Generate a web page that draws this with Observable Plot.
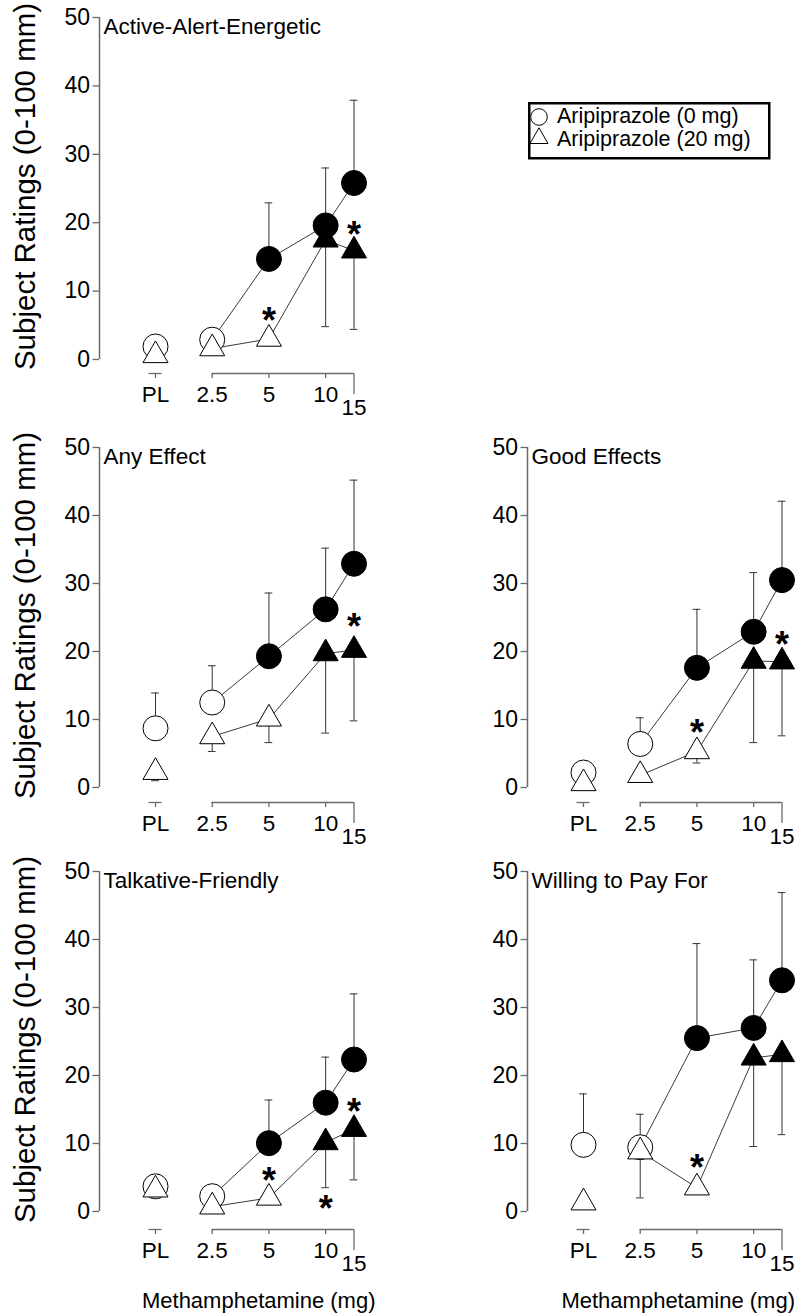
<!DOCTYPE html>
<html><head><meta charset="utf-8">
<script src="https://cdn.jsdelivr.net/npm/d3@7"></script>
<script src="https://cdn.jsdelivr.net/npm/@observablehq/plot@0.6"></script>
<style>
body{margin:0;background:#fff;}
#root{position:relative;width:800px;height:1313px;overflow:hidden;font-family:"Liberation Sans",Arial,Helvetica,sans-serif;background:#fff;}
.panel{position:absolute;}
.panel svg{overflow:visible;}
#legend{position:absolute;left:0;top:0;}
</style></head><body><div id="root"></div>
<script>
// ---- categories / tick labels ----
const doseLabels = ["PL", "2.5", "5", "10", "15"];
const dosePos = [0, 1, 2, 3, 3.5];
const groupNames = ["Aripiprazole (0 mg)", "Aripiprazole (20 mg)"];
const yTicks = [0, 10, 20, 30, 40, 50];
const yTitle = "Subject Ratings (0-100 mm)";
const xTitle = "Methamphetamine (mg)";
const panelTitles = ["Active-Alert-Energetic", "Any Effect", "Good Effects", "Talkative-Friendly", "Willing to Pay For"];

// ---- series values (mean, error-bar end, filled marker flag) ----
const activeMean0 = [1.9, 2.9, 14.7, 19.6, 25.8];
const activeErr0  = [null, null, 22.9, 28.0, 37.9];
const activeFill0 = [0, 0, 1, 1, 1];
const activeMean20 = [0.6, 1.6, 3.0, 17.5, 15.9];
const activeErr20  = [null, null, null, 4.8, 4.4];
const activeFill20 = [0, 0, 0, 1, 1];
const activeStars = [[2, 6.7], [4, 19.3]];

const anyMean0 = [8.7, 12.5, 19.3, 26.2, 32.9];
const anyErr0  = [13.9, 17.9, 28.6, 35.2, 45.2];
const anyFill0 = [0, 0, 1, 1, 1];
const anyMean20 = [2.25, 7.5, 10.1, 19.7, 20.2];
const anyErr20  = [1.0, 5.3, 6.6, 8.0, 9.8];
const anyFill20 = [0, 0, 0, 1, 1];
const anyStars = [[4, 24.7]];

const goodMean0 = [2.2, 6.4, 17.6, 22.9, 30.5];
const goodErr0  = [null, 10.25, 26.2, 31.6, 42.1];
const goodFill0 = [0, 0, 1, 1, 1];
const goodMean20 = [0.6, 1.8, 5.3, 18.6, 18.5];
const goodErr20  = [null, null, 3.6, 6.6, 7.6];
const goodFill20 = [0, 0, 0, 1, 1];
const goodStars = [[2, 9.1], [4, 22.0]];

const talkMean0 = [3.7, 2.25, 10.05, 16.0, 22.35];
const talkErr0  = [null, null, 16.4, 22.7, 32.0];
const talkFill0 = [0, 0, 1, 1, 1];
const talkMean20 = [3.2, 0.7, 2.0, 10.15, 12.1];
const talkErr20  = [null, null, null, 3.5, 4.65];
const talkFill20 = [0, 0, 0, 1, 1];
const talkStars = [[2, 5.6], [3, 1.5], [4, 15.8]];

const payMean0 = [9.8, 9.45, 25.5, 27.0, 34.0];
const payErr0  = [17.3, 14.3, 39.4, 37.0, 46.9];
const payFill0 = [0, 0, 1, 1, 1];
const payMean20 = [1.3, 8.8, 3.5, 22.6, 23.1];
const payErr20  = [null, 2.0, null, 9.55, 11.3];
const payFill20 = [0, 0, 0, 1, 1];
const payStars = [[2, 7.5]];

const FONT = "Liberation Sans, Arial, Helvetica, sans-serif";
const AXIS = "#6a6a6a";

function makeRows(mean0, err0, fill0, mean20, err20, fill20) {
  const rows = [];
  for (let i = 0; i < doseLabels.length; i++) {
    rows.push({x: dosePos[i], dose: i, group: 0, m: mean0[i], e: err0[i], filled: fill0[i]});
    rows.push({x: dosePos[i], dose: i, group: 1, m: mean20[i], e: err20[i], filled: fill20[i]});
  }
  return rows;
}

function panel(o) {
  const rows = makeRows(o.mean0, o.err0, o.fill0, o.mean20, o.err20, o.fill20);
  const withErr = rows.filter(d => d.e != null);
  const cap = 0.068;
  const off = o.axisPx - o.y0px;
  const marks = [
    // y axis line + ticks
    Plot.ruleX([0], {y1: 0, y2: 50, dx: 99 - 155, stroke: AXIS, strokeWidth: 1.5}),
    Plot.axisY(yTicks, {anchor: "left", tickSize: 6.5, tickPadding: 3, fontSize: 23, stroke: AXIS, strokeWidth: 1.3, fill: "black", label: null}),
    // broken x axis
    Plot.ruleY([0], {x1: -0.115, x2: 0.115, dy: off, stroke: AXIS, strokeWidth: 1.3}),
    Plot.ruleY([0], {x1: 1, x2: 3.5, dy: off, stroke: AXIS, strokeWidth: 1.3}),
    Plot.axisX([0, 1, 2, 3], {anchor: "bottom", tickSize: 5, tickPadding: 8, fontSize: 22.5, tickFormat: i => doseLabels[i], stroke: AXIS, strokeWidth: 1.3, fill: "black", label: null}),
    Plot.axisX([3.5], {anchor: "bottom", tickSize: 21, tickPadding: 5, fontSize: 22.5, tickFormat: () => doseLabels[4], stroke: AXIS, strokeWidth: 1.3, fill: "black", label: null}),
    // error bars
    Plot.ruleX(withErr, {x: "x", y1: "m", y2: "e", stroke: "#333", strokeWidth: 1}),
    Plot.ruleY(withErr, {y: "e", x1: d => d.x - cap, x2: d => d.x + cap, stroke: "#333", strokeWidth: 1}),
    // connecting lines (doses only)
    Plot.line(rows.filter(d => d.dose > 0), {x: "x", y: "m", z: "group", stroke: "#3a3a3a", strokeWidth: 1}),
    // markers
    Plot.dot(rows.filter(d => d.group === 0 && !d.filled), {x: "x", y: "m", r: 12.5, symbol: "circle", fill: "white", stroke: "black", strokeWidth: 1}),
    Plot.dot(rows.filter(d => d.group === 0 && d.filled), {x: "x", y: "m", r: 12.5, symbol: "circle", fill: "black", stroke: "black", strokeWidth: 1}),
    Plot.dot(rows.filter(d => d.group === 1 && !d.filled), {x: "x", y: "m", r: 9.3, symbol: "triangle", fill: "white", stroke: "black", strokeWidth: 1}),
    Plot.dot(rows.filter(d => d.group === 1 && d.filled), {x: "x", y: "m", r: 9.3, symbol: "triangle", fill: "black", stroke: "black", strokeWidth: 1}),
    // significance stars
    Plot.text(o.stars, {x: d => dosePos[d[0]], y: d => d[1], text: () => "*", fontSize: 36, fontWeight: "bold", lineAnchor: "middle", dy: 8, fill: "black"}),
    // panel title
    Plot.text([o.title], {frameAnchor: "top-left", textAnchor: "start", lineAnchor: "bottom", dx: 4, dy: 16, fontSize: 22.5, fill: "black"})
  ];
  if (o.yLabel) {
    marks.push(Plot.text([yTitle], {frameAnchor: "left", y: () => 25.3, rotate: -90, textAnchor: "middle", lineAnchor: "bottom", dx: -65, fontSize: 29.5, fill: "black"}));
  }
  if (o.xLabel) {
    marks.push(Plot.text([xTitle], {frameAnchor: "bottom", x: () => o.xLabelAt, textAnchor: "middle", lineAnchor: "bottom", dy: o.xLabelDy, fontSize: 22, fill: "black"}));
  }
  const chart = Plot.plot({
    width: 372,
    height: o.height,
    marginTop: 17,
    marginLeft: 99,
    marginRight: 0,
    marginBottom: o.height - o.axisPx,
    x: {type: "linear", domain: [0, 3.5], range: [155, 353.5], axis: null},
    y: {type: "linear", domain: [0, 50], range: [o.y0px, 17], axis: null},
    style: {fontFamily: FONT, fontSize: "22px", background: "transparent", overflow: "visible", color: "black"},
    marks
  });
  const div = document.createElement("div");
  div.className = "panel";
  div.style.left = o.left + "px";
  div.style.top = o.top + "px";
  div.style.width = "372px";
  div.style.height = o.height + "px";
  div.appendChild(chart);
  document.getElementById("root").appendChild(div);
}

panel({title: panelTitles[0], mean0: activeMean0, err0: activeErr0, fill0: activeFill0, mean20: activeMean20, err20: activeErr20, fill20: activeFill20, stars: activeStars,
  left: 0, top: 0, height: 430, y0px: 359, axisPx: 373, yLabel: true, xLabel: false});
panel({title: panelTitles[1], mean0: anyMean0, err0: anyErr0, fill0: anyFill0, mean20: anyMean20, err20: anyErr20, fill20: anyFill20, stars: anyStars,
  left: 0, top: 430, height: 424, y0px: 357, axisPx: 372, yLabel: true, xLabel: false});
panel({title: panelTitles[2], mean0: goodMean0, err0: goodErr0, fill0: goodFill0, mean20: goodMean20, err20: goodErr20, fill20: goodFill20, stars: goodStars,
  left: 428, top: 430, height: 424, y0px: 357, axisPx: 372, yLabel: false, xLabel: false});
panel({title: panelTitles[3], mean0: talkMean0, err0: talkErr0, fill0: talkFill0, mean20: talkMean20, err20: talkErr20, fill20: talkFill20, stars: talkStars,
  left: 0, top: 854, height: 459, y0px: 357, axisPx: 375, yLabel: true, xLabel: true, xLabelAt: 1.82, xLabelDy: 78});
panel({title: panelTitles[4], mean0: payMean0, err0: payErr0, fill0: payFill0, mean20: payMean20, err20: payErr20, fill20: payFill20, stars: payStars,
  left: 428, top: 854, height: 459, y0px: 357, axisPx: 375, yLabel: false, xLabel: true, xLabelAt: 1.67, xLabelDy: 78});

// ---- legend (inside the top-right area) ----
const lg = d3.select("#root").append("svg").attr("id", "legend").attr("width", 800).attr("height", 200)
  .style("font-family", FONT);
lg.append("rect").attr("x", 529.25).attr("y", 103.25).attr("width", 240).attr("height", 55)
  .attr("fill", "white").attr("stroke", "black").attr("stroke-width", 2.5);
lg.append("circle").attr("cx", 539).attr("cy", 117).attr("r", 8.3).attr("fill", "white").attr("stroke", "black").attr("stroke-width", 1);
lg.append("path").attr("d", "M530,143.5L548,143.5L539,127.8Z").attr("fill", "white").attr("stroke", "black").attr("stroke-width", 1);
lg.selectAll("text.lab").data(groupNames).join("text").attr("class", "lab")
  .attr("x", 557).attr("y", (d, i) => i === 0 ? 123 : 146)
  .attr("font-size", 21.5).attr("fill", "black").text(d => d);
</script>
</body></html>
